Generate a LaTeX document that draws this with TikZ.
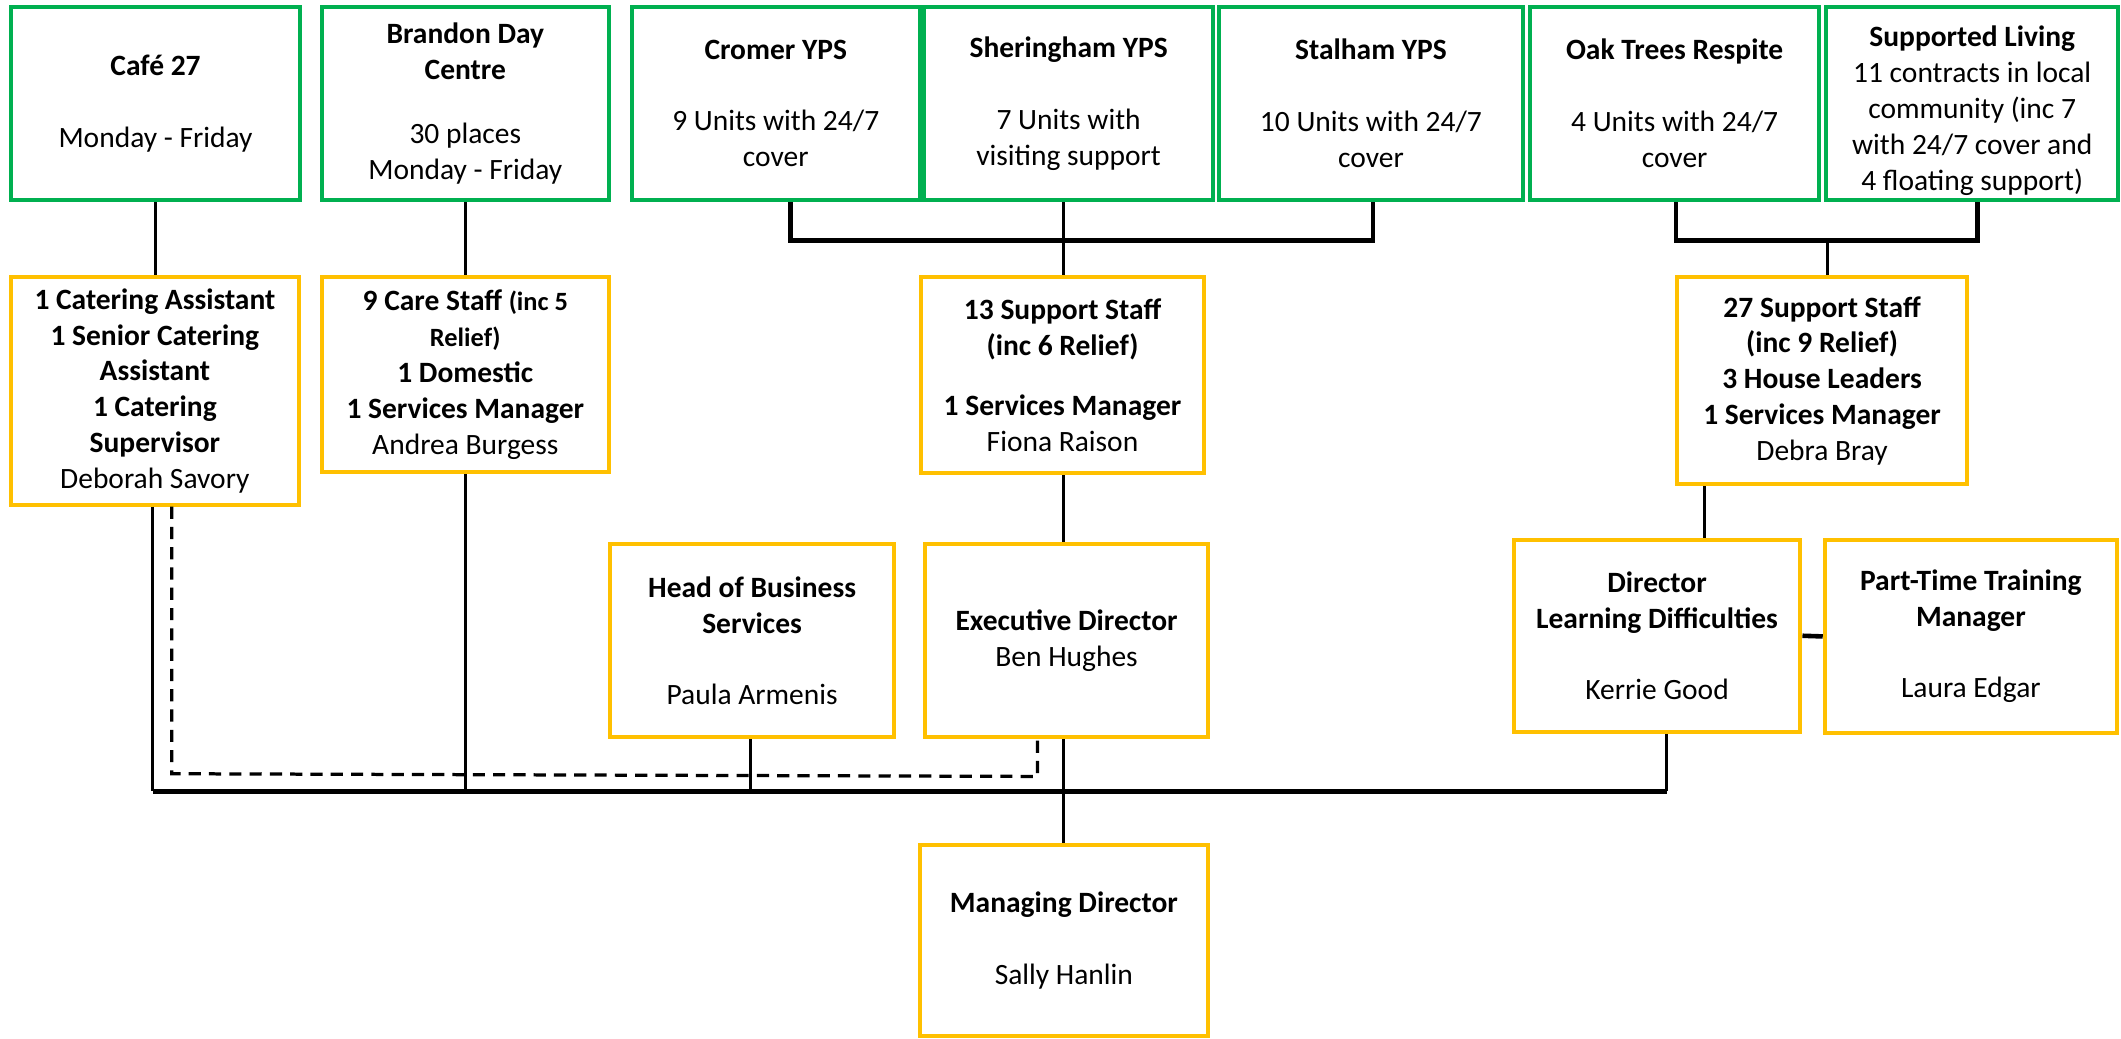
\documentclass[tikz,border=0pt]{standalone}
\usepackage{fontspec}
\setmainfont{Carlito}
\definecolor{boxgreen}{HTML}{00B050}
\definecolor{boxgold}{HTML}{FFC000}
\tikzset{
  unit/.style={draw=boxgreen, line width=3pt, fill=white, rectangle, align=center, inner sep=0pt,
    font=\fontsize{21.8}{26.5}\selectfont},
  staff/.style={draw=boxgold, line width=3pt, fill=white, rectangle, align=center, inner sep=0pt,
    font=\fontsize{21.8}{26.5}\selectfont},
  link/.style={line width=2.2pt, black},
  bus/.style={line width=3.4pt, black},
  dotted link/.style={line width=2.4pt, black, dash pattern=on 9pt off 6pt},
}
\begin{document}
\begin{tikzpicture}[x=1pt,y=-1pt]
\useasboundingbox[fill=white] (0,0) rectangle (1568,767.4);
% top units
\node[unit, minimum width=214pt, minimum height=143pt] (cafe) at (115,76.5) {\textbf{Café 27}\\[26.5pt]Monday - Friday};
\node[unit, minimum width=212pt, minimum height=143pt] (brandon) at (344,76.5) {\textbf{Brandon Day}\\\textbf{Centre}\\[21pt]30 places\\Monday - Friday};
\node[unit, minimum width=213pt, minimum height=143pt] (cromer) at (573.5,76.5) {\textbf{Cromer YPS}\\[26.5pt]9 Units with 24/7\\cover};
\node[unit, minimum width=214pt, minimum height=143pt] (shering) at (790,76.5) {\textbf{Sheringham YPS}\\[26.5pt]7 Units with\\visiting support};
\node[unit, minimum width=225pt, minimum height=143pt] (stalham) at (1013.5,76.5) {\textbf{Stalham YPS}\\[26.5pt]10 Units with 24/7\\cover};
\node[unit, minimum width=214pt, minimum height=143pt] (oak) at (1238,76.5) {\textbf{Oak Trees Respite}\\[26.5pt]4 Units with 24/7\\cover};
\node[unit, minimum width=216pt, minimum height=143pt] (sl) at (1458,76.5) {\rule{0pt}{26pt}\textbf{Supported Living}\\11 contracts in local\\community (inc 7\\with 24/7 cover and\\4 floating support)};
% staff boxes
\node[staff, minimum width=213pt, minimum height=168pt] (catering) at (114.5,289) {\textbf{1 Catering Assistant}\\\textbf{1 Senior Catering}\\\textbf{Assistant}\\\textbf{1 Catering}\\\textbf{Supervisor}\\Deborah Savory};
\node[staff, minimum width=212pt, minimum height=144pt] (care) at (344,277) {\textbf{9 Care Staff {\fontsize{19.5}{26.5}\selectfont(inc 5}}\\{\fontsize{19.5}{26.5}\selectfont\textbf{Relief)}}\\\textbf{1 Domestic}\\\textbf{1 Services Manager}\\Andrea Burgess};
\node[staff, minimum width=209pt, minimum height=145pt] (sup13) at (785.5,277.5) {\textbf{13 Support Staff}\\\textbf{(inc 6 Relief)}\\[18pt]\textbf{1 Services Manager}\\Fiona Raison};
\node[staff, minimum width=214pt, minimum height=153pt] (sup27) at (1347,281.5) {\textbf{27 Support Staff}\\\textbf{(inc 9 Relief)}\\\textbf{3 House Leaders}\\\textbf{1 Services Manager}\\Debra Bray};
\node[staff, minimum width=210pt, minimum height=143pt] (hob) at (556,473.5) {\textbf{Head of Business}\\\textbf{Services}\\[26pt]Paula Armenis};
\node[staff, minimum width=209pt, minimum height=143pt] (exec) at (788.5,473.5) {\textbf{Executive Director}\\Ben Hughes};
\node[staff, minimum width=212pt, minimum height=142pt] (dld) at (1225,470) {\textbf{Director}\\\textbf{Learning Difficulties}\\[26pt]Kerrie Good};
\node[staff, minimum width=216pt, minimum height=143pt] (ptm) at (1457,470.5) {\textbf{Part-Time Training}\\\textbf{Manager}\\[26pt]Laura Edgar};
\node[staff, minimum width=213pt, minimum height=141pt] (md) at (786.5,695.5) {\textbf{Managing Director}\\[26.5pt]Sally Hanlin};
% connectors top
\draw[link] (cafe.south) -- (cafe.south |- catering.north);
\draw[link] (brandon.south) -- (brandon.south |- care.north);
\coordinate (b13) at (786,178);
\draw[bus] ([xshift=11pt]cromer.south) |- (b13) -| ([xshift=1.5pt]stalham.south);
\draw[link] (b13 |- shering.south) -- (b13 |- sup13.north);
\coordinate (b27) at (1351,178);
\draw[bus] ([xshift=1pt]oak.south) |- (b27) -| ([xshift=4pt]sl.south);
\draw[link] (b27) -- (b27 |- sup27.north);
\draw[link] (b13 |- sup13.south) -- (b13 |- exec.north);
\coordinate (j27) at (1260,0);
\draw[link] (j27 |- sup27.south) -- (j27 |- dld.north);
\draw[bus] (dld.east) -- (ptm.west);
% bottom bus
\coordinate (bb) at (113,585);
\coordinate (be) at (1232,585);
\draw[link] (bb |- catering.south) -- (bb);
\draw[link] (344,0 |- care.south) -- (344,585);
\draw[link] (555,0 |- hob.south) -- (555,585);
\draw[link] (b13 |- exec.south) -- (b13 |- md.north);
\draw[link] (be |- dld.south) -- (be);
\draw[bus] (bb) -- (be);
% dashed
\coordinate (d1) at (127,0);
\coordinate (d2) at (767,0);
\draw[dotted link] (d1 |- catering.south) -- (127,572) -- (767,574) -- (d2 |- exec.south);
\end{tikzpicture}
\end{document}
